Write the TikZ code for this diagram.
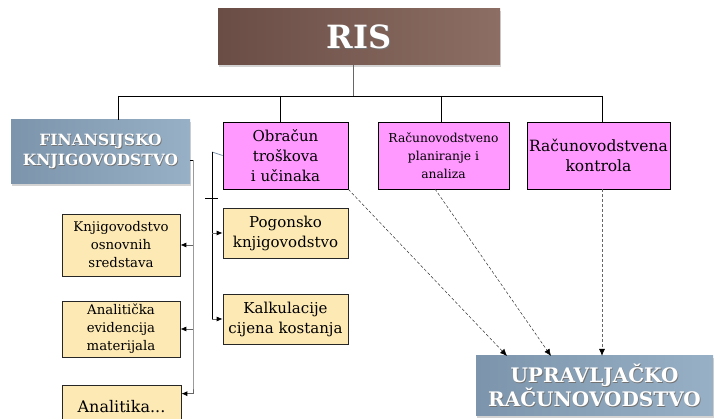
\documentclass[tikz,border=0pt]{standalone}
\usepackage{fontspec}
\setmainfont{DejaVu Serif}
\usetikzlibrary{arrows.meta,shadows,calc}
\definecolor{magbox}{HTML}{FF99FF}
\definecolor{yelbox}{HTML}{FDE9B4}
\definecolor{blueL}{HTML}{7C95AC}
\definecolor{blueR}{HTML}{98B0C5}
\definecolor{brownL}{HTML}{6A4D45}
\definecolor{brownR}{HTML}{8C6E64}
\definecolor{linegray}{HTML}{666666}
\newcommand{\shtxt}[1]{\rlap{\hspace{0.8pt}\raisebox{-0.8pt}{\textcolor{black!55}{#1}}}#1}
\tikzset{
  magnode/.style={draw=black, line width=0.7pt, fill=magbox, align=center, inner sep=1pt, font=\fontsize{15}{20}\selectfont},
  yelnode/.style={draw=black!85, line width=0.7pt, fill=yelbox, align=center, inner sep=1pt, font=\fontsize{15}{20}\selectfont},
  bluenode/.style={left color=blueL, right color=blueR, draw=none, align=center, text=white,
     font=\bfseries\fontsize{15.5}{20}\selectfont, drop shadow={shadow xshift=1pt, shadow yshift=-2pt, opacity=0.35}},
  brownnode/.style={left color=brownL, right color=brownR, draw=none, align=center, text=white,
     font=\bfseries\fontsize{32}{34}\selectfont, drop shadow={shadow xshift=1pt, shadow yshift=-2pt, opacity=0.35}},
  busline/.style={draw=black, line width=0.7pt},
  grayline/.style={draw=linegray, line width=0.8pt},
  grayarrow/.style={draw=linegray, line width=0.8pt, -{Latex[length=6pt,width=5pt,color=black]}},
  dasharrow/.style={draw=black!80, line width=0.5pt, dashed, dash pattern=on 3pt off 2pt, -{Latex[length=7pt,width=6pt,color=black]}},
}
\begin{document}
\begin{tikzpicture}[x=1pt,y=-1pt]
\useasboundingbox (0,0) rectangle (715,419);
\clip (0,0) rectangle (715,419);
% boxes
\node[brownnode, minimum width=282pt, minimum height=56pt] (ris) at (359,37) {\shtxt{RIS}};
\node[bluenode, minimum width=179pt, minimum height=64pt] (fin) at (100.5,152) {\shtxt{FINANSIJSKO}\\\shtxt{KNJIGOVODSTVO}};
\node[magnode, minimum width=125pt, minimum height=67pt] (obr) at (285.5,155.5) {Obračun\\troškova\\i učinaka};
\node[magnode, minimum width=131pt, minimum height=67pt, font=\fontsize{12.3}{18}\selectfont] (rpa) at (443.5,155.5) {Računovodstveno\\planiranje i\\analiza};
\node[magnode, minimum width=143pt, minimum height=67pt, font=\fontsize{15.5}{20}\selectfont] (rk) at (598.5,155.5) {Računovodstvena\\kontrola};
\node[yelnode, minimum width=118pt, minimum height=62pt, font=\fontsize{13.3}{18}\selectfont] (k1) at (121,245) {Knjigovodstvo\\osnovnih\\sredstava};
\node[yelnode, minimum width=118pt, minimum height=56pt, font=\fontsize{13.3}{18}\selectfont] (k2) at (121,329) {Analitička\\evidencija\\materijala};
\node[yelnode, minimum width=119pt, minimum height=44pt, font=\fontsize{16}{20}\selectfont] (k3) at (121.5,407) {Analitika...};
\node[yelnode, minimum width=125pt, minimum height=50pt] (pog) at (285.5,233) {Pogonsko\\knjigovodstvo};
\node[yelnode, minimum width=125pt, minimum height=50pt] (kal) at (285.5,319) {Kalkulacije\\cijena kostanja};
\node[bluenode, minimum width=237pt, minimum height=60pt, font=\bfseries\fontsize{20}{23}\selectfont] (upr) at (594.5,386) {\shtxt{UPRAVLJAČKO}\\\shtxt{RAČUNOVODSTVO}};
% bus
\coordinate (busc) at (353,96);
\coordinate (b1) at (118,96);
\coordinate (b2) at (280,96);
\coordinate (b3) at (441,96);
\coordinate (b4) at (602,96);
\draw[grayline] (busc |- ris.south) -- (busc);
\draw[busline] (b1) -- (b4);
\draw[busline] (b1) -- (b1 |- fin.north);
\draw[busline] (b2) -- (b2 |- obr.north);
\draw[busline] (b3) -- (b3 |- rpa.north);
\draw[busline] (b4) -- (b4 |- rk.north);
% financial branch
\coordinate (fv) at (193,160);
\draw[busline] (fin.east |- fv) -- (fv);
\draw[grayline] (fv) -- (fv |- k3.north east) -- ++(0,9) coordinate (fvend);
\draw[grayarrow] (fv |- k1.east) -- (k1.east);
\draw[grayarrow] (fv |- k2.east) -- (k2.east);
\draw[grayarrow] (fvend) -- (fvend -| k3.east);
% cost branch
\coordinate (ov) at (212,152);
\coordinate (ovend) at (212,319);
\draw[grayline, draw=blueL] (obr.west) -- (ov);
\draw[busline] (ov) -- (ovend);
\draw[busline] (205,198) -- (218,198);
\draw[grayarrow] (ov |- pog.west) -- (pog.west);
\draw[grayarrow] (ovend) -- (kal.west);
% dashed arrows
\coordinate (t1) at (507,356);
\coordinate (t2) at (551,356);
\coordinate (t3) at (602,356);
\coordinate (s2) at (435,189);
\draw[dasharrow] (obr.south east) -- (t1);
\draw[dasharrow] (s2) -- (t2);
\draw[dasharrow, draw=black!60, line width=0.9pt] (rk.south -| t3) -- (t3);
\end{tikzpicture}
\end{document}
